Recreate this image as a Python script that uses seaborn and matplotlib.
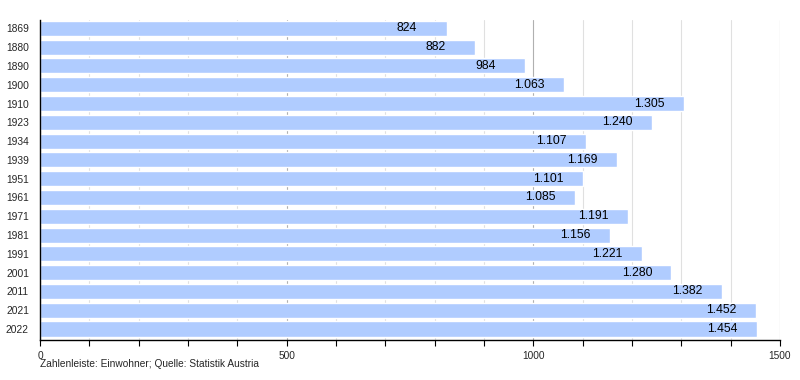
import matplotlib
matplotlib.use('Agg')
import matplotlib.pyplot as plt
import seaborn as sns
import pandas as pd
from matplotlib.ticker import MultipleLocator, NullLocator

# Einwohner je Volkszählungsjahr
years = ['1869', '1880', '1890', '1900', '1910', '1923', '1934', '1939', '1951',
         '1961', '1971', '1981', '1991', '2001', '2011', '2021', '2022']
population = [824, 882, 984, 1063, 1305, 1240, 1107, 1169, 1101,
              1085, 1191, 1156, 1221, 1280, 1382, 1452, 1454]

df = pd.DataFrame({'Jahr': years, 'Einwohner': population})

sns.set_style('white')
plt.rcParams['font.family'] = ['Liberation Sans', 'DejaVu Sans']

fig = plt.figure(figsize=(8, 3.8), dpi=100)
ax = fig.add_axes([0.05, 0.105, 0.925, 0.842])

sns.barplot(data=df, x='Einwohner', y='Jahr', orient='h', color='#b0ccff',
            saturation=1, width=0.8, ax=ax)

ax.set_xlim(0, 1500)
ax.set_ylim(len(years) - 0.41, -0.44)

# gridlines: light every 100, darker every 500
ax.xaxis.set_major_locator(MultipleLocator(500))
ax.xaxis.set_minor_locator(MultipleLocator(100))
ax.yaxis.set_minor_locator(NullLocator())
ax.grid(which='minor', axis='x', color='#e0e0e0', linewidth=0.8)
ax.grid(which='major', axis='x', color='#b0b0b0', linewidth=0.8)
ax.grid(False, axis='y')
ax.set_axisbelow(True)

for s in ['top', 'right']:
    ax.spines[s].set_visible(False)
for s in ['left', 'bottom']:
    ax.spines[s].set_color('black')
    ax.spines[s].set_linewidth(1)
    ax.spines[s].set_zorder(5)

ax.tick_params(axis='x', which='both', direction='out', length=4, width=0.8,
               color='black', labelsize=7.3, pad=4, bottom=True)
ax.tick_params(axis='y', which='both', length=0, labelsize=7.4, pad=8, left=False)
ax.set_xlabel('')
ax.set_ylabel('')

# value labels inside the bars, German thousands separator
for i, v in enumerate(population):
    label = f'{v:,}'.replace(',', '.')
    ax.text(v - 101, i, label, ha='left', va='center', fontsize=8.8,
            color='black', zorder=4)

fig.text(0.05, 0.033, 'Zahlenleiste: Einwohner; Quelle: Statistik Austria',
         fontsize=7.3, ha='left', va='baseline')

fig.savefig('out.png', dpi=100)
